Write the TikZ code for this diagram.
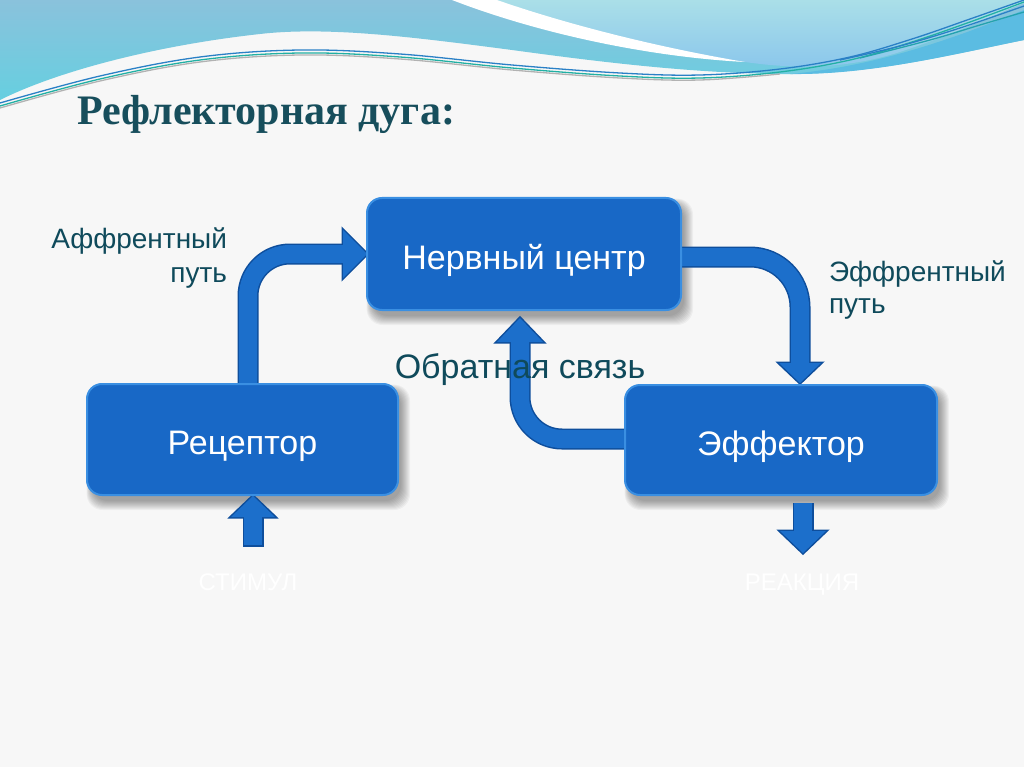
\documentclass[tikz,border=0pt]{standalone}
\usepackage{fontspec}
\setmainfont{Liberation Sans}
\newfontfamily\titlefont{Liberation Serif}
\usetikzlibrary{calc}
\pgfdeclarelayer{back}\pgfdeclarelayer{shad}\pgfdeclarelayer{arr}
\pgfsetlayers{back,shad,arr,main}
\definecolor{bgcol}{HTML}{F7F7F7}
\definecolor{boxfill}{HTML}{1868C6}
\definecolor{boxrim}{HTML}{3A8FE2}
\definecolor{arrfill}{HTML}{1C6FCB}
\definecolor{arrline}{HTML}{0E4E9C}
\definecolor{labcol}{HTML}{0F4A5B}
\definecolor{titlecol}{HTML}{174E5C}
\definecolor{bandtop}{HTML}{8AC2DC}
\definecolor{bandbot}{HTML}{66CFE0}
\definecolor{lighttop}{HTML}{AADFE8}
\definecolor{lightbot}{HTML}{8AC6EC}
\definecolor{darkband}{HTML}{5BBCE2}
\definecolor{lineblue}{HTML}{2A80C6}
\definecolor{lineteal}{HTML}{22B0A4}
\tikzset{
 box/.style={draw=boxrim, line width=2pt, fill=boxfill, rounded corners=15pt, outer sep=0pt, inner sep=0pt,
   text=white, font=\fontsize{34}{40}\selectfont, text height=30pt, text depth=0pt},
 lab/.style={text=labcol, inner sep=0pt, outer sep=0pt},
 faint/.style={text=white, inner sep=0pt, outer sep=0pt, font=\fontsize{24}{28}\selectfont},
 shaftout/.style={draw=arrline, line width=21pt},
 shaftin/.style={draw=arrfill, line width=18pt},
 headout/.style={fill=arrline, draw=arrline, line width=3pt, line join=miter},
 headin/.style={fill=arrfill},
 wave/.style={line width=1.3pt},
}
\newcommand\myarrow[5][]{%
  \draw[shaftout,#1] #2;
  \filldraw[headout] #3 -- #4 -- #5 -- cycle;
  \draw[shaftin,#1] #2;
  \fill[headin] #3 -- #4 -- #5 -- cycle;
}
\newcommand\boxshadow[1]{%
  \foreach \k in {0,...,9}{%
    \fill[black, opacity=0.04, rounded corners=16pt]
      ($(#1.north west)+(5-0.6*\k, 6-0.6*\k)$) rectangle ($(#1.south east)+(3+\k, 6+\k)$);}}
\begin{document}
\begin{tikzpicture}[x=1pt, y=-1pt]
\useasboundingbox (0,0) rectangle (1024,767);

% boxes
\node[box, minimum width=314pt, minimum height=112pt] (nc) at (524,254) {Нервный центр};
\node[box, minimum width=311pt, minimum height=111pt] (rec) at (242.5,439.5) {Рецептор};
\node[box, minimum width=312pt, minimum height=110pt] (eff) at (781,440) {Эффектор};

% labels
\node[lab, align=right, anchor=base east, font=\fontsize{28}{34}\selectfont] (afflab) at (227,282) {Аффрентный\\путь};
\node[lab, align=left, anchor=base west, font=\fontsize{28}{32}\selectfont] (efflab) at (829,313) {Эффрентный\\путь};
\node[lab, anchor=base, font=\fontsize{34}{40}\selectfont] (fb) at (520,378) {Обратная связь};
\node[anchor=base west, inner sep=0pt, text=titlecol, font=\titlefont\bfseries\fontsize{42}{50}\selectfont] (title) at (77,125) {Рефлекторная дуга:};
\node[faint, anchor=base] (stimtxt) at (248,590) {СТИМУЛ};
\node[faint, anchor=base] (reactxt) at (802,590) {РЕАКЦИЯ};
\coordinate (stim) at (253,545);

% background and top waves
\begin{pgfonlayer}{back}
\fill[bgcol] (0,0) rectangle (1024,767);
\shade[top color=bandtop, bottom color=bandbot]
  (0,0) -- (1024,0) -- (1024,40) .. controls (950,55) and (870,75) .. (780,74)
  .. controls (690,73) and (600,62) .. (512,50) .. controls (420,38) and (330,26) .. (260,34)
  .. controls (160,45) and (60,70) .. (0,100) -- cycle;
\fill[darkband] (790,74) .. controls (880,66) and (960,36) .. (1024,10) -- (1024,40)
  .. controls (950,55) and (870,75) .. (790,74) -- cycle;
\shade[top color=lighttop, bottom color=lightbot]
  (495,0) .. controls (560,22) and (650,48) .. (745,62) .. controls (800,70) and (850,68) .. (900,52)
  .. controls (960,32) and (1000,12) .. (1024,3) -- (1024,0) -- cycle;
\fill[white] (452,0) -- (497,0) .. controls (560,22) and (650,46) .. (745,62)
  .. controls (650,57) and (540,34) .. (452,0) -- cycle;
\draw[wave, color=gray!60] plot[smooth, tension=0.6] coordinates
  {(0,108) (100,81) (200,62) (300,55) (400,59) (512,70) (620,78) (700,80) (780,74)};
\draw[wave, color=lineteal] plot[smooth, tension=0.6] coordinates
  {(0,106) (100,79) (200,60) (300,53) (400,57) (512,68) (620,76) (700,78) (780,72) (850,60) (912,42) (970,22) (1024,2)};
\draw[wave, color=lineblue] plot[smooth, tension=0.6] coordinates
  {(0,103) (100,76) (200,57) (300,50) (400,54) (512,65) (620,73) (700,75) (780,69) (850,57) (912,39) (970,19) (1024,0)};
\draw[wave, color=lineblue] plot[smooth, tension=0.6] coordinates
  {(840,60) (900,46) (960,28) (1024,6)};
\draw[wave, color=lineteal!70!lineblue] plot[smooth, tension=0.6] coordinates
  {(860,58) (930,40) (980,25) (1024,12)};
\end{pgfonlayer}

% shadows
\begin{pgfonlayer}{shad}
\boxshadow{nc}
\boxshadow{rec}
\boxshadow{eff}
\end{pgfonlayer}

% arrows
\begin{pgfonlayer}{arr}
% afferent path
\myarrow[rounded corners=42pt]{($(rec.north west)+(161,0)$) |- ($(nc.west)+(-22,0)$)}
  {($(nc.west)+(-24,-24)$)}{(nc.west)}{($(nc.west)+(-24,24)$)}
% efferent path
\myarrow[rounded corners=50pt]{($(nc.east)+(0,3)$) -| ($(eff.north west)+(175,-20)$)}
  {($(eff.north west)+(154,-22)$)}{($(eff.north west)+(175,-2)$)}{($(eff.north west)+(196,-22)$)}
% feedback
\myarrow[rounded corners=42pt]{($(eff.west)+(0,-1)$) -| ($(nc.south west)+(153,30)$)}
  {($(nc.south west)+(130,32)$)}{($(nc.south west)+(153,8)$)}{($(nc.south west)+(176,32)$)}
% stimulus
\draw[shaftout, shorten <=-1.5pt] (stim) -- ($(rec.south west)+(166,20)$);
\filldraw[headout] ($(rec.south west)+(144,22)$) -- ($(rec.south west)+(166,1)$) -- ($(rec.south west)+(188,22)$) -- cycle;
\draw[shaftin] (stim) -- ($(rec.south west)+(166,20)$);
\fill[headin] ($(rec.south west)+(144,22)$) -- ($(rec.south west)+(166,1)$) -- ($(rec.south west)+(188,22)$) -- cycle;
% reaction
\myarrow{($(eff.south west)+(178,8)$) -- ($(eff.south west)+(178,38)$)}
  {($(eff.south west)+(155,36)$)}{($(eff.south west)+(178,58)$)}{($(eff.south west)+(201,36)$)}
\end{pgfonlayer}
\end{tikzpicture}
\end{document}
